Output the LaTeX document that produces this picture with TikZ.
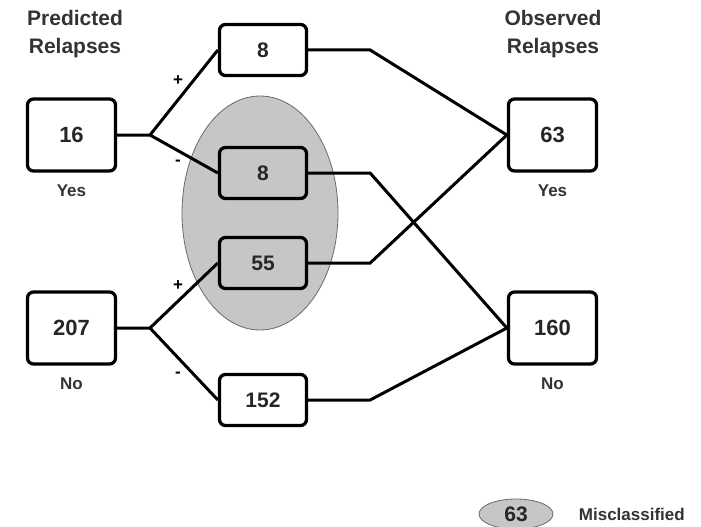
\documentclass[tikz,border=0pt]{standalone}
\usepackage{fontspec}
\setmainfont{Liberation Sans}
\usetikzlibrary{positioning,shapes.geometric}
\definecolor{misgray}{HTML}{C6C6C6}
\definecolor{rimgray}{HTML}{6A6A6A}

\tikzset{
  bigbox/.style={draw,line width=3.3pt,rounded corners=6pt,minimum width=88pt,minimum height=72pt,fill=white,font=\fontsize{22}{26}\selectfont\bfseries,text=black!85},
  smallbox/.style={draw,line width=3.3pt,rounded corners=6pt,minimum width=87pt,minimum height=51pt,fill=white,font=\fontsize{21}{24}\selectfont\bfseries,text=black!85},
  grayfill/.style={fill=misgray},
  wire/.style={line width=3pt,line join=miter},
  lbl/.style={font=\fontsize{17}{20}\selectfont\bfseries,text=black!80},
  head/.style={font=\fontsize{21}{28}\selectfont\bfseries,text=black!80,align=center},
  sign/.style={font=\fontsize{17}{18}\selectfont\bfseries}
}

\begin{document}
\begin{tikzpicture}[x=1pt,y=-1pt]
  \useasboundingbox (0,0) rectangle (701,527);
  % shaded region of misclassified cases
  \node[ellipse,draw=rimgray,line width=0.8pt,fill=misgray,minimum width=156pt,minimum height=234pt] (mis) at (260,213) {};
  \node[head] (phead) at (75,34) {Predicted\\Relapses};
  \node[head] (ohead) at (553,34) {Observed\\Relapses};
  % predicted and observed totals
  \node[bigbox] (pyes) at (71.5,135) {16};
  \node[bigbox] (pno) at (71.5,328) {207};
  \node[bigbox] (oyes) at (552.5,135) {63};
  \node[bigbox] (ono) at (552.5,328) {160};
  \foreach \n/\t in {pyes/Yes,pno/No,oyes/Yes,ono/No}
    \node[lbl,below=9pt of \n] (\n-l) {\t};
  % cross classification
  \node[smallbox] (tp) at (263,50) {8};
  \node[smallbox,grayfill] (fn) at (263,173) {8};
  \node[smallbox,grayfill] (fp) at (263,263) {55};
  \node[smallbox] (tn) at (263,400) {152};
  \coordinate (byes) at (150,135);
  \coordinate (bno) at (150,328);
  \draw[wire] (pyes.east) -- (byes) -- (tp.west);
  \draw[wire] (byes) -- (fn.west);
  \draw[wire] (pno.east) -- (bno) -- (fp.west);
  \draw[wire] (bno) -- (tn.west);
  \node[sign] at (178,81) {+};
  \node[sign] at (178,163) {-};
  \node[sign] at (178,286) {+};
  \node[sign] at (178,375) {-};
  \foreach \s/\d in {tp/oyes,fn/ono,fp/oyes,tn/ono}
    \draw[wire] (\s.east) -- +(62,0) -- (\d.west);
  % legend
  \node[ellipse,draw=rimgray,line width=0.8pt,fill=misgray,minimum width=74pt,minimum height=30pt,font=\fontsize{21}{24}\selectfont\bfseries,text=black!85,inner sep=0pt] (key) at (516,514) {63};
  \node[lbl,right=22pt of key] (keytxt) {Misclassified};
\end{tikzpicture}
\end{document}
